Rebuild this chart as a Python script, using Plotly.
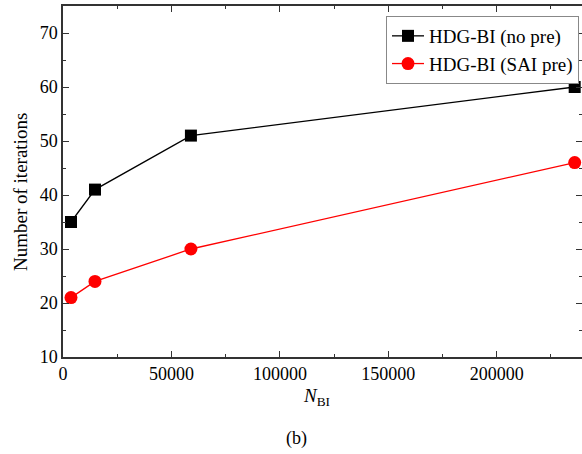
import plotly.graph_objects as go

n_bi = [3686, 14746, 58982, 235930]
iters_no_pre = [35, 41, 51, 60]
iters_sai_pre = [21, 24, 30, 46]
x_ticks = [0, 50000, 100000, 150000, 200000]
y_ticks = [10, 20, 30, 40, 50, 60, 70]

FONT = "Liberation Serif"
W, H = 582, 454
L, R, T, B = 63, 0, 6, 97
PW, PH = W - L - R, H - T - B


def px_x(p):
    return (p - L) / PW


def px_y(p):
    return 1 - (p - T) / PH


fig = go.Figure()
fig.add_trace(go.Scatter(
    x=n_bi, y=iters_no_pre, mode="lines+markers", name="HDG-BI (no pre)",
    line=dict(color="black", width=1.3), cliponaxis=False,
    marker=dict(symbol="square", size=12, color="black"),
))
fig.add_trace(go.Scatter(
    x=n_bi, y=iters_sai_pre, mode="lines+markers", name="HDG-BI (SAI pre)",
    line=dict(color="red", width=1.3), cliponaxis=False,
    marker=dict(symbol="circle", size=13, color="red"),
))

axis_common = dict(
    showline=True, linecolor="#333333", linewidth=1.5, mirror="ticks",
    ticks="inside", ticklen=6, tickwidth=1.2, tickcolor="#333333",
    showgrid=False, zeroline=False, automargin=False,
    tickfont=dict(family=FONT, size=18, color="black"),
)

fig.update_layout(
    width=W, height=H,
    margin=dict(l=L, r=R, t=T, b=B),
    paper_bgcolor="white", plot_bgcolor="white",
    font=dict(family=FONT, size=18, color="black"),
    xaxis=dict(range=[0, 239300], tickvals=x_ticks,
               ticktext=[str(v) for v in x_ticks],
               minor=dict(ticks="inside", ticklen=3, tickwidth=1.2,
                          tickcolor="#333333", dtick=25000, tick0=0),
               **axis_common),
    yaxis=dict(range=[10, 75], tickvals=y_ticks,
               minor=dict(ticks="inside", ticklen=3, tickwidth=1.2,
                          tickcolor="#333333", dtick=5, tick0=0),
               **axis_common),
    legend=dict(x=px_x(386), y=px_y(16), xanchor="left", yanchor="top",
                bordercolor="#888888", borderwidth=1, bgcolor="white",
                font=dict(family=FONT, size=19), tracegroupgap=0,
                itemwidth=32),
    showlegend=True,
)

fig.add_annotation(text="Number of iterations", x=px_x(20), y=px_y(192),
                   xref="paper", yref="paper", textangle=-90,
                   showarrow=False, xanchor="center", yanchor="middle",
                   font=dict(family=FONT, size=19, color="black"))
fig.add_annotation(text="<i>N</i><sub>BI</sub>", x=px_x(316), y=px_y(397),
                   xref="paper", yref="paper",
                   showarrow=False, xanchor="center", yanchor="middle",
                   font=dict(family=FONT, size=19, color="black"))
fig.add_annotation(text="(b)", x=px_x(296), y=px_y(438),
                   xref="paper", yref="paper",
                   showarrow=False, xanchor="center", yanchor="middle",
                   font=dict(family=FONT, size=18, color="black"))

fig.write_html("out.html", config={"displayModeBar": False},
               post_script="document.body.style.margin='0';document.body.style.overflow='hidden';")
